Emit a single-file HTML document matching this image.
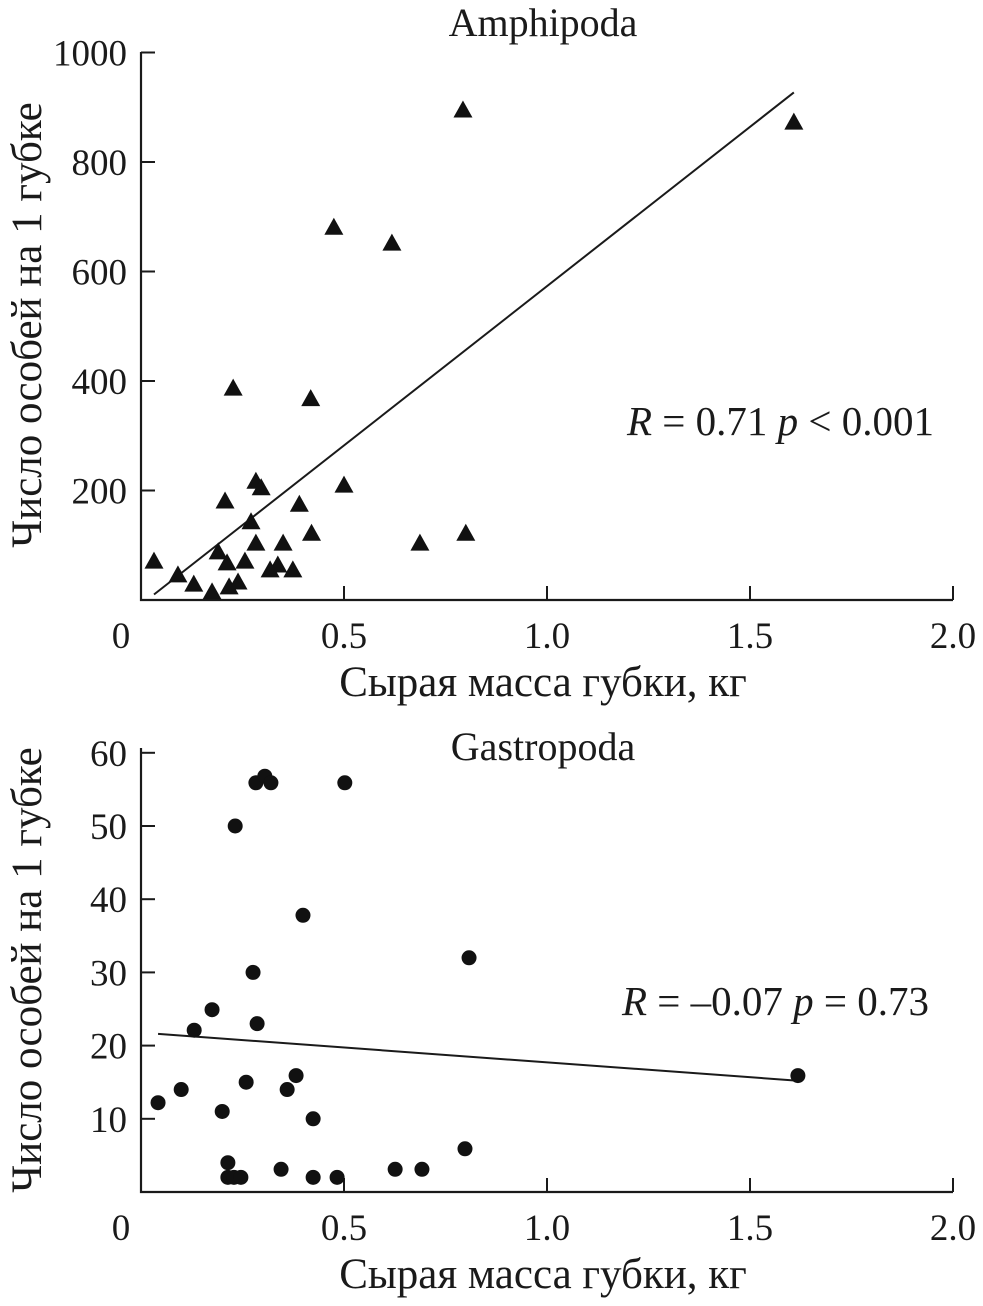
<!DOCTYPE html>
<html><head><meta charset="utf-8"><style>
html,body{margin:0;padding:0;background:#fff}
svg text{font-family:"Liberation Serif",serif;fill:#1a1a1a}
</style></head><body>
<svg id="fig" width="983" height="1301" viewBox="0 0 983 1301"></svg>
<script>
const ampX=[0.032,0.091,0.13,0.175,0.19,0.207,0.212,0.217,0.227,0.239,0.256,0.271,0.283,0.283,0.296,0.318,0.337,0.35,0.374,0.39,0.418,0.42,0.475,0.5,0.618,0.687,0.793,0.80,1.608];
const ampY=[70,45,28,14,87,180,67,23,386,32,70,142,216,103,204,54,63,103,54,174,367,121,680,209,651,103,894,121,872];
const ampFit=[[0.032,10],[1.608,927]];
const gasX=[0.042,0.099,0.131,0.175,0.2,0.214,0.214,0.229,0.232,0.246,0.259,0.276,0.283,0.286,0.305,0.32,0.345,0.36,0.382,0.399,0.424,0.424,0.483,0.502,0.626,0.692,0.798,0.808,1.618];
const gasY=[12.2,14,22.1,24.9,11,4,2,2,50,2,15,30,55.9,23,56.8,55.9,3.1,14,15.9,37.8,10,2,2,55.9,3.1,3.1,5.9,32,15.9];
const gasFit=[[0.042,21.6],[1.618,15.2]];
const xTicks=[0.5,1.0,1.5,2.0];
const xTickLabels=["0.5","1.0","1.5","2.0"];
const ampYTicks=[200,400,600,800,1000];
const gasYTicks=[10,20,30,40,50,60];

const NS="http://www.w3.org/2000/svg";
const svg=document.getElementById('fig');
function mk(tag,attrs,parent){const e=document.createElementNS(NS,tag);for(const k in attrs)e.setAttribute(k,attrs[k]);(parent||svg).appendChild(e);return e;}

function panel(opt){
  const g=mk('g',{});
  
  
  const sx=v=>141+406*v;
  const sy=v=>opt.y0-opt.k*v;
  const ax=mk('path',{d:`M141,${opt.yTop} L141,${opt.y0} L953,${opt.y0}`,stroke:'#1a1a1a','stroke-width':2.2,fill:'none'},g);
  
  
  xTicks.forEach((t,i)=>{
    const l=mk('line',{x1:sx(t),x2:sx(t),y1:opt.y0,y2:opt.y0-14,stroke:'#1a1a1a','stroke-width':2},g);
    
    
    const tx=mk('text',{x:sx(t),y:opt.y0+48,'font-size':37,'text-anchor':'middle'},g);
    tx.textContent=xTickLabels[i];
    
    
  });
  const z=mk('text',{x:121,y:opt.y0+48,'font-size':37,'text-anchor':'middle'},g);
  z.textContent='0';
  
  
  opt.yTicks.forEach(t=>{
    const l=mk('line',{x1:141,x2:155,y1:sy(t),y2:sy(t),stroke:'#1a1a1a','stroke-width':2},g);
    
    
    const tx=mk('text',{x:127,y:sy(t)+13,'font-size':37,'text-anchor':'end'},g);
    tx.textContent=String(t);
    
    
  });
  const f=opt.fit;
  const ln=mk('line',{x1:sx(f[0][0]),y1:sy(f[0][1]),x2:sx(f[1][0]),y2:sy(f[1][1]),stroke:'#1a1a1a','stroke-width':2},g);
  
  
  opt.xs.forEach((v,i)=>{
    const cx=sx(v),cy=sy(opt.ys[i]);
    let m;
    if(opt.tri){m=mk('polygon',{points:`${cx},${cy-10} ${cx-9.5},${cy+7} ${cx+9.5},${cy+7}`,fill:'#111'},g);}
    else{m=mk('circle',{cx:cx,cy:cy,r:7.5,fill:'#111'},g);}
    
    
  });
  const ti=mk('text',{x:543,y:opt.titleY,'font-size':40,'text-anchor':'middle'},g);
  ti.textContent=opt.title;
  
  
  const xt=mk('text',{x:543,y:opt.y0+96,'font-size':43,'text-anchor':'middle'},g);
  xt.textContent='Сырая масса губки, кг';
  
  
  const yt=mk('text',{x:0,y:0,'font-size':43,'text-anchor':'middle',transform:`translate(41,${opt.yTitleC}) rotate(-90)`},g);
  yt.textContent='Число особей на 1 губке';
  
  
  const an=mk('text',{x:opt.annX,y:opt.annY,'font-size':41},g);
  an.innerHTML=opt.ann;
  
  
}
panel({name:'amphipoda-panel',y0:600,k:0.5475,yTop:52,yTicks:ampYTicks,xs:ampX,ys:ampY,fit:ampFit,tri:true,title:'Amphipoda',titleY:36,yTitleC:325,annX:627,annY:435,
  ann:'<tspan font-style="italic">R</tspan> = 0.71 <tspan font-style="italic">p</tspan> &lt; 0.001'});
panel({name:'gastropoda-panel',y0:1192,k:7.32,yTop:748,yTicks:gasYTicks,xs:gasX,ys:gasY,fit:gasFit,tri:false,title:'Gastropoda',titleY:760,yTitleC:970,annX:622,annY:1015,
  ann:'<tspan font-style="italic">R</tspan> = –0.07 <tspan font-style="italic">p</tspan> = 0.73'});
</script>
</body></html>
